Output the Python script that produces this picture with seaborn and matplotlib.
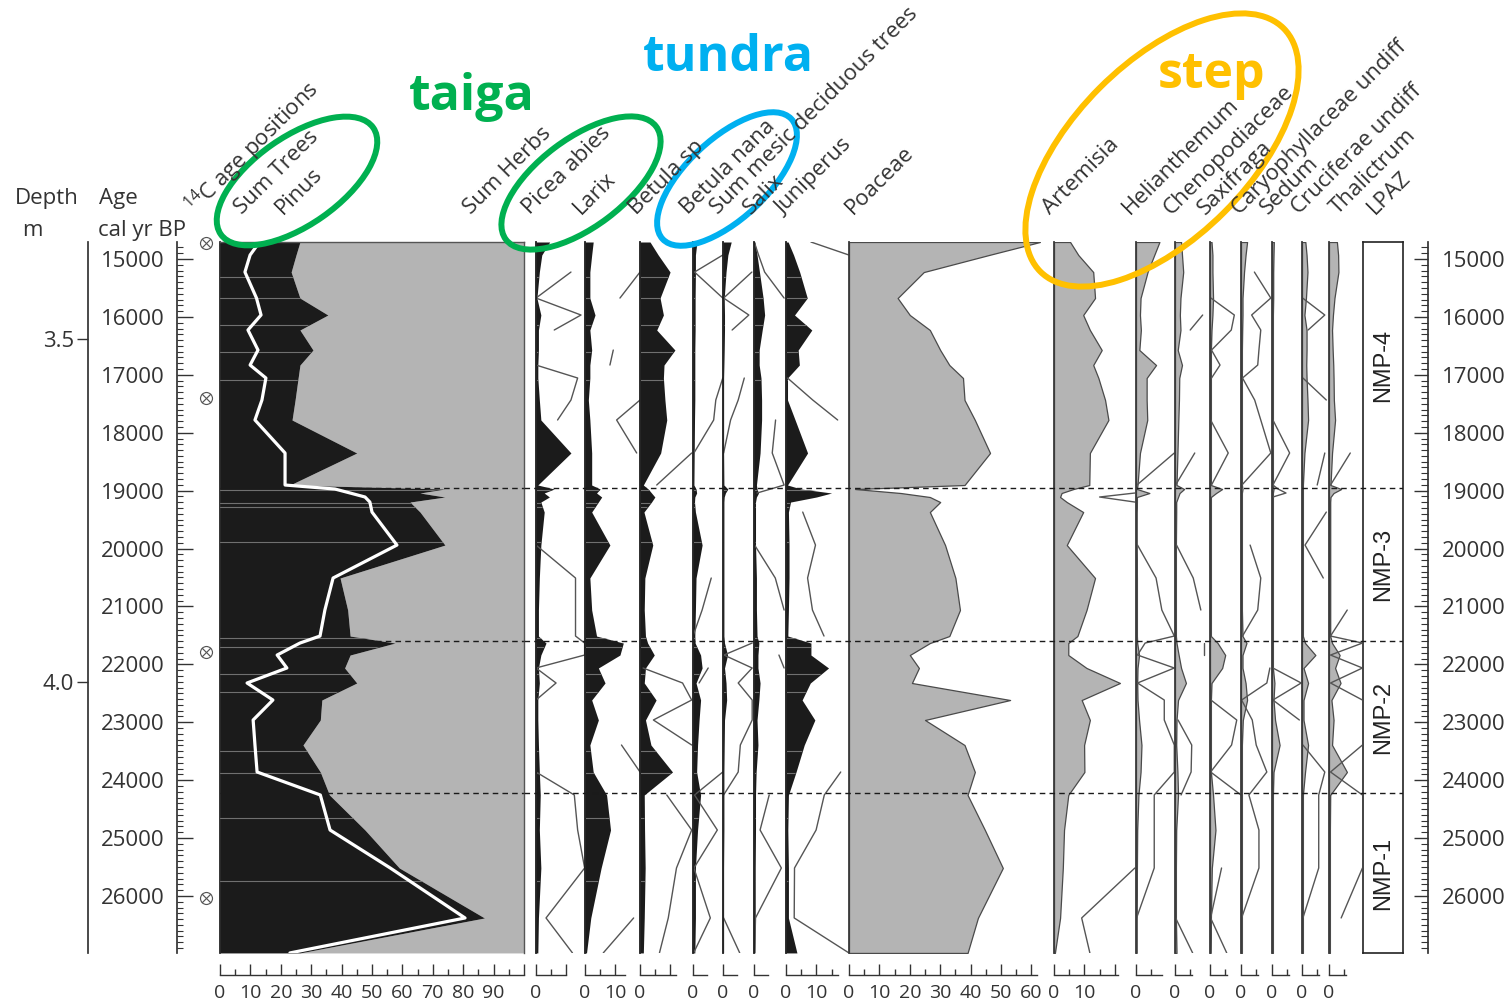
import numpy as np
import pandas as pd
import matplotlib
matplotlib.use("Agg")
import matplotlib.pyplot as plt
import matplotlib.transforms as mtrans
from matplotlib.patches import Ellipse
import seaborn as sns

nan = np.nan

# ---------------- data ----------------
ages = [14706, 14931, 15225, 15674, 15967, 16226, 16572, 16831, 17055, 17435,
        17780, 18350, 18903, 18972, 19041, 19110, 19197, 19370, 19940, 20509,
        21062, 21511, 21632, 21839, 22063, 22322, 22616, 22961, 23393, 23859,
        24256, 24861, 25517, 26380, 26984]

sum_trees = [26.3, 25.0, 23.4, 26.3, 35.5, 26.3, 30.6, 26.3, 25.7, 24.7,
             23.7, 45.0, 23.0, 74.0, 65.8, 74.0, 62.5, 65.8, 74.0, 39.5,
             42.0, 42.8, 57.6, 42.8, 41.0, 45.0, 33.5, 33.0, 27.3, 33.0,
             36.0, 47.7, 59.0, 87.0, 26.3]
pinus = [13.0, 9.9, 8.2, 12.0, 13.5, 9.2, 12.5, 9.9, 15.1, 13.8,
         11.5, 21.4, 21.4, 37.8, 42.8, 47.7, 49.3, 50.0, 58.2, 37.2,
         34.5, 32.9, 26.3, 18.8, 22.0, 8.9, 17.4, 10.9, 11.5, 12.2,
         33.0, 36.2, 56.0, 80.6, 23.0]

picea = [4.5, 1.9, 1.1, 0.3, 1.6, 0.8, 0.8, 0.6, 0.6, 1.1,
         1.6, 11.5, 0.6, 6.0, 2.7, 4.4, 1.6, 2.7, 1.6, 1.1,
         0.8, 0.8, 3.3, 1.6, 0.8, 1.1, 0.6, 0.6, 0.8, 1.1,
         1.4, 1.1, 1.6, 0.8, 0.6]
picea_line = [nan, nan, 11.5, 0.0, 14.8, 6.0, nan, 0.0, 13.7, 11.5,
              7.1, nan, nan, nan, nan, nan, nan, nan, 0.0, 13.0,
              13.0, 13.0, 16.0, 16.0, 0.0, 6.6, 0.0, nan, nan, 0.0,
              12.6, 13.7, 16.0, 3.3, 12.0]
larix = [2.7, 2.2, 1.6, 1.6, 3.3, 1.6, 2.2, 1.6, 1.6, 1.1,
         1.6, 2.2, 2.2, 5.0, 3.8, 5.5, 4.4, 2.2, 8.2, 1.6,
         2.2, 3.8, 12.6, 11.5, 4.4, 6.6, 2.2, 4.4, 1.6, 2.7,
         7.1, 8.4, 5.3, 1.9, 0.5]
larix_line = [nan, nan, 18.1, 11.5, nan, nan, 9.3, 8.2, nan, 18.1,
              10.4, 17.0, nan, nan, nan, nan, nan, nan, nan, nan,
              nan, nan, nan, nan, nan, nan, nan, nan, 12.0, 18.1,
              nan, nan, nan, 16.0, 6.0]
betula_sp = [3.3, 6.0, 9.9, 6.6, 7.7, 5.5, 11.5, 7.9, 7.7, 8.2,
             8.8, 6.8, 1.1, 2.7, 3.8, 4.9, 3.8, 1.3, 4.2, 1.6,
             1.4, 1.8, 2.5, 4.7, 1.8, 1.4, 5.3, 1.8, 3.6, 10.7,
             1.4, 1.5, 1.7, 1.4, 1.1]
betula_sp_line = [nan, nan, nan, nan, nan, nan, nan, nan, nan, nan,
                  nan, 17.0, 5.5, nan, nan, nan, nan, nan, nan, nan,
                  nan, nan, nan, nan, 1.0, 14.0, 17.0, 4.4, 17.0, nan,
                  8.8, 17.0, 12.0, 9.3, 6.4]
betula_nana = [1.3, 0.8, 0.8, 0.7, 0.7, 0.7, 0.6, 0.6, 0.6, 0.6,
               0.5, 0.4, 0.3, 1.0, 1.2, 0.6, 0.5, 0.8, 3.0, 1.0,
               0.8, 0.6, 0.7, 2.5, 3.0, 1.0, 2.5, 2.0, 1.5, 1.2,
               2.5, 1.5, 0.8, 0.8, 0.6]
betula_nana_line = [nan, 9.8, 0.5, 9.8, nan, nan, nan, nan, 9.8, 7.5,
                    6.8, 0.3, nan, nan, nan, nan, nan, nan, nan, 6.0,
                    3.0, 0.0, nan, nan, 5.0, 2.0, nan, nan, nan, 9.8,
                    0.5, 8.0, 0.3, 5.7, 0.2]
sum_mesic = [2.7, 1.6, 1.0, 0.4, 0.5, 0.5, 0.4, 0.3, 0.2, 0.2,
             0.2, 0.2, 0.3, 1.6, 0.8, 0.4, 0.3, 0.3, 0.3, 0.3,
             0.3, 0.3, 0.5, 1.5, 0.5, 1.0, 1.2, 0.5, 0.4, 0.3,
             0.3, 0.3, 0.2, 0.2, 0.2]
sum_mesic_line = [nan, nan, 9.5, 0.2, 8.5, 3.0, nan, nan, 7.0, 5.0,
                  2.5, 0.2, nan, nan, nan, nan, nan, nan, nan, nan,
                  nan, nan, 9.6, 0.3, 9.6, 5.0, 9.6, 9.6, 5.7, 5.0,
                  0.2, nan, nan, 0.2, 5.5]
salix = [0.3, 1.0, 1.8, 3.0, 3.5, 2.7, 1.7, 1.7, 2.3, 2.5,
         2.5, 2.0, 0.8, 1.0, 1.5, 0.8, 0.5, 0.5, 0.5, 0.8,
         0.8, 1.0, 1.6, 1.3, 1.3, 2.0, 1.6, 1.0, 1.3, 0.7,
         0.5, 0.5, 0.4, 0.4, 0.3]
salix_line = [0.1, 1.5, 3.5, 9.9, nan, nan, nan, nan, nan, nan,
              7.1, 6.0, 9.9, 5.5, 1.0, nan, nan, nan, 0.2, 7.0,
              9.9, nan, nan, 8.2, 9.9, nan, nan, nan, nan, nan,
              5.0, 2.0, 9.0, 0.5, 0.2]
juniperus = [0.7, 2.5, 4.5, 7.0, 2.8, 8.5, 4.0, 4.4, 0.5, 0.5,
             3.0, 7.1, 0.5, 5.0, 15.0, 10.0, 1.5, 0.8, 1.0, 1.0,
             0.8, 0.6, 8.2, 8.2, 14.0, 8.0, 5.3, 9.5, 6.0, 3.3,
             0.8, 0.6, 0.8, 0.8, 3.6]
juniperus_line = [8.2, 20.7, nan, nan, nan, nan, nan, nan, 0.5, 8.8,
                  17.0, nan, nan, nan, nan, nan, nan, 5.5, 9.7, 7.1,
                  8.7, 12.5, nan, nan, nan, nan, nan, nan, nan, 18.0,
                  12.6, 9.9, 2.8, 2.7, 20.7]
poaceae = [62.8, 46.0, 24.6, 16.0, 20.0, 26.6, 30.0, 33.0, 37.5, 38.0,
           41.4, 46.4, 38.0, 2.0, 17.0, 26.6, 30.0, 26.6, 31.6, 35.0,
           36.5, 33.0, 26.6, 20.0, 23.0, 20.7, 53.0, 25.0, 38.0, 41.4,
           39.0, 44.7, 50.6, 42.4, 39.0]
artemisia = [5.3, 8.0, 12.9, 13.5, 9.6, 11.8, 15.7, 12.9, 14.6, 16.8,
             17.9, 11.8, 11.6, 6.4, 2.5, 2.0, 4.2, 9.6, 4.2, 13.5,
             10.7, 7.7, 4.7, 4.7, 10.7, 21.7, 9.1, 11.8, 9.9, 10.0,
             4.7, 3.3, 2.9, 2.0, 0.3]
artemisia_line = [nan, nan, nan, nan, nan, nan, nan, nan, nan, nan,
                  nan, nan, nan, nan, 26.6, 15.0, 26.6, nan, nan, nan,
                  nan, nan, nan, nan, nan, nan, nan, nan, nan, nan,
                  nan, nan, 26.6, 9.1, 11.8]
helianthemum = [7.7, 6.0, 3.8, 1.5, 1.3, 1.6, 1.1, 6.6, 3.5, 3.5,
                3.7, 1.3, 0.5, 0.3, 4.4, 0.3, 0.3, 0.2, 0.2, 0.3,
                0.3, 0.3, 0.4, 1.0, 0.5, 0.4, 0.5, 1.0, 1.8, 1.5,
                0.8, 0.4, 0.3, 0.2, 0.2]
helianthemum_line = [nan, nan, nan, nan, nan, nan, nan, nan, nan, nan,
                     nan, 12.6, 0.3, nan, nan, nan, nan, nan, 0.5, 6.6,
                     8.5, 12.6, 3.0, 0.5, 12.6, 0.5, 9.3, 9.3, 12.6, 12.6,
                     6.0, 6.0, 6.0, 0.2, nan]
cheno = [2.0, 2.3, 2.7, 1.8, 1.6, 1.8, 0.9, 2.3, 1.4, 1.3,
         1.1, 0.8, 0.5, 3.0, 1.5, 1.0, 0.4, 0.4, 0.3, 0.3,
         0.3, 0.3, 0.5, 1.2, 2.0, 3.6, 1.0, 0.5, 0.4, 0.8,
         1.0, 0.4, 0.3, 0.3, 0.5]
cheno_line = [nan, nan, nan, nan, 9.1, 5.0, nan, nan, nan, nan,
              nan, 6.5, 0.2, nan, nan, nan, nan, nan, 0.5, 6.0,
              8.5, nan, 9.6, 9.6, nan, nan, nan, 1.0, 5.5, 5.3,
              2.0, nan, nan, 0.2, 5.8]
saxifraga = [0.5, 0.8, 0.8, 1.0, 0.8, 0.5, 0.3, 0.3, 0.3, 0.3,
             0.3, 0.3, 0.3, 4.0, 2.0, 0.3, 0.3, 0.3, 0.3, 0.3,
             0.3, 0.3, 2.5, 5.0, 4.0, 0.5, 0.3, 0.3, 0.3, 0.3,
             1.0, 1.8, 0.6, 0.3, 0.2]
saxifraga_line = [nan, nan, nan, 0.3, 8.0, 7.0, 0.5, 3.3, 0.5, nan,
                  0.2, 6.0, 0.5, nan, nan, nan, nan, nan, nan, nan,
                  nan, nan, nan, nan, nan, nan, 0.3, 8.8, 7.1, 0.2,
                  10.2, nan, 3.8, 0.2, 5.5]
caryo = [2.0, 1.5, 1.0, 0.5, 0.5, 0.4, 0.3, 0.3, 0.3, 0.3,
         0.3, 0.3, 0.3, 0.5, 0.3, 0.3, 0.3, 0.3, 0.3, 0.3,
         0.3, 0.5, 1.8, 0.5, 0.5, 1.5, 2.0, 0.6, 0.3, 0.3,
         0.3, 0.3, 0.3, 0.3, 0.3]
caryo_line = [nan, nan, 4.4, 9.8, 3.5, 6.5, 5.9, 5.5, 0.5, 4.5,
              6.5, 9.8, 0.3, nan, nan, nan, 6.0, nan, 3.0, 6.5,
              5.5, 0.5, nan, nan, 9.5, 8.5, 0.2, 3.7, 5.0, 8.5,
              2.6, 5.9, 5.9, 0.2, 0.2]
sedum = [0.6, 0.5, 0.4, 0.4, 0.3, 0.3, 0.3, 0.3, 0.3, 0.3,
         0.3, 0.3, 0.3, 0.5, 0.3, 0.3, 0.3, 0.3, 0.3, 0.3,
         0.3, 0.3, 0.3, 0.3, 0.3, 0.8, 0.5, 1.0, 2.5, 0.5,
         0.3, 0.3, 0.3, 0.3, 0.3]
sedum_line = [nan, nan, nan, nan, nan, nan, nan, nan, nan, nan,
              0.3, 5.8, 0.3, 2.0, 4.6, 0.3, nan, nan, nan, nan,
              nan, nan, nan, nan, 0.3, 9.6, 0.3, 9.0, nan, nan,
              nan, nan, nan, nan, nan]
cruciferae = [1.1, 1.5, 1.8, 1.3, 0.8, 1.5, 1.5, 1.4, 1.5, 1.8,
              2.0, 0.8, 0.3, 0.3, 0.3, 0.3, 0.3, 0.3, 0.3, 0.3,
              0.3, 0.3, 1.0, 4.4, 0.5, 2.0, 0.5, 0.5, 2.0, 1.0,
              0.3, 0.3, 0.3, 0.3, 0.3]
cruciferae_line = [nan, nan, nan, 0.2, 7.5, 2.0, nan, nan, 0.3, 8.0,
                   nan, 7.5, 5.0, nan, nan, nan, nan, 8.0, 1.0, 7.0,
                   nan, nan, nan, nan, nan, nan, nan, nan, 0.3, 7.5,
                   5.5, 5.5, 5.5, 0.3, nan]
thalictrum = [2.6, 3.0, 3.1, 1.8, 1.3, 1.0, 1.2, 1.4, 1.5, 1.6,
              2.0, 1.0, 0.5, 4.0, 1.5, 0.5, 0.4, 0.4, 0.4, 0.4,
              0.4, 0.4, 1.0, 3.5, 2.0, 3.8, 0.8, 1.5, 1.0, 5.9,
              0.4, 0.3, 0.3, 0.3, 0.3]
thalictrum_line = [nan, nan, nan, nan, nan, 8.0, nan, nan, nan, nan,
                   nan, 7.0, 0.5, nan, nan, nan, nan, 11.0, nan, nan,
                   6.0, 0.5, 11.0, 0.5, 11.0, 0.5, 11.0, nan, 11.0, 0.5,
                   11.0, nan, 11.0, 4.0, nan]

level_ages = [15311, 15674, 16140, 16606, 17090, 18990, 19214, 19283, 19887,
              21545, 21701, 22167, 22478, 23497, 23877, 24654, 25742]
c14_ages = [14724, 17400, 21787, 26036]
zone_names = ["NMP-4", "NMP-3", "NMP-2", "NMP-1"]
zone_bounds = [18955, 21597, 24222]
age_ticks = [15000, 16000, 17000, 18000, 19000, 20000, 21000, 22000, 23000, 24000, 25000, 26000]
depth_ticks = [3.5, 4.0]
depth_labels = ["3.5", "4.0"]

header_labels = [r"$^{14}$C age positions", "Sum Trees", "Pinus", "Sum Herbs",
                 "Picea abies", "Larix", "Betula sp", "Betula nana",
                 "Sum mesic deciduous trees", "Salix", "Juniperus", "Poaceae",
                 "Artemisia", "Helianthemum", "Chenopodiaceae", "Saxifraga",
                 "Caryophyllaceae undiff", "Sedum", "Cruciferae undiff",
                 "Thalictrum", "LPAZ"]
header_x = [195, 242, 283, 471, 530, 581, 636, 688, 718, 751, 783, 853,
            1050, 1130, 1171, 1205, 1239, 1268, 1299, 1338, 1375]

# ---------------- style / layout ----------------
sns.set_theme(style="white")
plt.rcParams['font.family'] = ['Open Sans', 'DejaVu Sans']
plt.rcParams['mathtext.default'] = 'regular'

W, H, DPI = 1509, 1006, 100
TOP, BOT = 242, 953
AGE_TOP, AGE_BOT = 14706, 26985
DEPTH_TOP, DEPTH_BOT = 3.3586, 4.395
PXP = 3.04          # pixels per percent
TXT = '#333333'
BLACK = '#1b1b1b'
GREY = '#b4b4b4'
LINEC = '#555555'

fig = plt.figure(figsize=(W / DPI, H / DPI), dpi=DPI)
fig.patch.set_facecolor('white')


def rect(x0, x1, y0=TOP, y1=BOT):
    return [x0 / W, 1 - y1 / H, (x1 - x0) / W, (y1 - y0) / H]


def base_axes(x0, x1):
    ax = fig.add_axes(rect(x0, x1))
    ax.set_facecolor('none')
    for s in ax.spines.values():
        s.set_visible(False)
    ax.grid(False)
    ax.set_yticks([])
    ax.set_xticks([])
    return ax


def draw_line(ax, vals, color=LINEC, lw=1.0, z=4):
    v = np.asarray(vals, dtype=float)
    a = np.asarray(ages, dtype=float)
    idx = np.where(~np.isnan(v))[0]
    if len(idx) == 0:
        return
    runs = np.split(idx, np.where(np.diff(idx) != 1)[0] + 1)
    for r in runs:
        if len(r) < 2:
            continue
        sns.lineplot(x=v[r], y=a[r], orient='y', sort=False, estimator=None,
                     color=color, lw=lw, ax=ax, zorder=z)


def level_lines(ax, coll):
    path = coll.get_paths()[0]
    for la in level_ages:
        ln = ax.axhline(la, color='#707070', lw=0.8, zorder=3)
        ln.set_clip_path(path, ax.transData)


def bottom_scale(ax, amax, labs):
    sp = ax.spines['bottom']
    sp.set_visible(True)
    sp.set_position(('outward', 16))
    sp.set_bounds(0, amax)
    sp.set_color(TXT)
    sp.set_linewidth(1)
    majors = list(range(0, int(amax) + 1, 10))
    minors = list(range(5, int(amax) + 1, 10))
    ax.set_xticks(majors)
    ax.set_xticklabels([str(m) if m in labs else '' for m in majors])
    ax.set_xticks(minors, minor=True)
    ax.tick_params(axis='x', which='major', direction='in', length=8, width=1,
                   color=TXT, labelsize=14, labelcolor=TXT, pad=6, bottom=True)
    ax.tick_params(axis='x', which='minor', direction='in', length=4, width=1,
                   color=TXT, bottom=True)


# ---- Panel 1 : Sum Trees (black) / Sum Herbs (grey) / Pinus (white) ----
ax1 = base_axes(220, 524)
ax1.fill_betweenx(ages, sum_trees, 100, color=GREY, lw=0, zorder=1)
for b in zone_bounds:
    ax1.axhline(b, color='k', lw=1, ls=(0, (4, 3)), zorder=1.5)
blk = ax1.fill_betweenx(ages, 0, sum_trees, color=BLACK, lw=0, zorder=2)
level_lines(ax1, blk)
df_p = pd.DataFrame({'age': ages, 'pinus': pinus})
sns.lineplot(data=df_p, x='pinus', y='age', orient='y', sort=False, estimator=None,
             color='white', lw=2.3, ax=ax1, zorder=4)
for s in ['top', 'right']:
    ax1.spines[s].set_visible(True)
    ax1.spines[s].set_color('#555555')
    ax1.spines[s].set_linewidth(1)
ax1.spines['left'].set_visible(True)
ax1.spines['left'].set_color(BLACK)
bottom_scale(ax1, 100, [0, 10, 20, 30, 40, 50, 60, 70, 80, 90])
ax1.set_xlim(0, 100)
ax1.set_ylim(AGE_BOT, AGE_TOP)
ax1.set_xlabel('')
ax1.set_ylabel('')

# ---- the other taxa ----
panels = [
    (picea, picea_line, 'black', 536, 585, 10, [0]),
    (larix, larix_line, 'black', 585, 640, 13, [0, 10]),
    (betula_sp, betula_sp_line, 'black', 640, 693, 12, [0]),
    (betula_nana, betula_nana_line, 'black', 693, 723, 4.5, [0]),
    (sum_mesic, sum_mesic_line, 'black', 723, 754, 4.5, [0]),
    (salix, salix_line, 'black', 754, 786, 4.5, [0]),
    (juniperus, juniperus_line, 'black', 786, 849, 17, [0, 10]),
    (poaceae, None, 'grey', 849, 1054, 62, [0, 10, 20, 30, 40, 50, 60]),
    (artemisia, artemisia_line, 'grey', 1054, 1136, 21, [0, 10]),
    (helianthemum, helianthemum_line, 'grey', 1136, 1175, 8.5, [0]),
    (cheno, cheno_line, 'grey', 1175, 1210, 5.5, [0]),
    (saxifraga, saxifraga_line, 'grey', 1210, 1241, 5.5, [0]),
    (caryo, caryo_line, 'grey', 1241, 1272, 5.5, [0]),
    (sedum, sedum_line, 'grey', 1272, 1302, 5.5, [0]),
    (cruciferae, cruciferae_line, 'grey', 1302, 1329, 5.5, [0]),
    (thalictrum, thalictrum_line, 'grey', 1329, 1362, 5.5, [0]),
]

for vals, line, style, x0, x1, amax, labs in panels:
    ax = base_axes(x0, x1)
    xmax = (x1 - x0) / PXP
    if style == 'black':
        coll = ax.fill_betweenx(ages, 0, vals, color=BLACK, lw=0, zorder=2)
        level_lines(ax, coll)
    else:
        ax.fill_betweenx(ages, 0, vals, facecolor=GREY, edgecolor='#4a4a4a',
                         lw=0.9, zorder=2)
    if line is not None:
        draw_line(ax, line)
    ax.spines['left'].set_visible(True)
    ax.spines['left'].set_color(BLACK if style == 'black' else '#3a3a3a')
    ax.spines['left'].set_linewidth(1.3)
    ax.spines['left'].set_zorder(5)
    bottom_scale(ax, amax, labs)
    ax.set_xlim(0, xmax)
    ax.set_ylim(AGE_BOT, AGE_TOP)
    ax.set_xlabel('')
    ax.set_ylabel('')

# ---- zone boundaries across the taxa (on top) ----
axzl = base_axes(524, 1403)
axzl.set_zorder(10)
for b in zone_bounds:
    axzl.axhline(b, color='k', lw=1, ls=(0, (4, 3)))
axzl.set_ylim(AGE_BOT, AGE_TOP)
axzl.set_xlim(0, 1)

# ---- LPAZ box ----
axz = base_axes(1363, 1403)
for s in axz.spines.values():
    s.set_visible(True)
    s.set_color('#222222')
    s.set_linewidth(1.2)
axz.set_ylim(AGE_BOT, AGE_TOP)
edges = [AGE_TOP] + zone_bounds + [AGE_BOT]
trans = mtrans.blended_transform_factory(axz.transAxes, axz.transData)
for name, a0, a1 in zip(zone_names, edges[:-1], edges[1:]):
    axz.text(0.5, (a0 + a1) / 2, name, rotation=90, ha='center', va='center',
             transform=trans, fontsize=17, color='#222222',
             family=['Liberation Sans', 'DejaVu Sans'])

# ---- depth axis ----
axd = base_axes(88, 120)
axd.spines['left'].set_visible(True)
axd.spines['left'].set_color(TXT)
axd.set_ylim(DEPTH_BOT, DEPTH_TOP)
axd.set_yticks(depth_ticks)
axd.set_yticklabels(depth_labels)
axd.tick_params(axis='y', direction='out', length=8, width=1, color=TXT,
                labelsize=16, labelcolor=TXT, pad=2, left=True)

# ---- left age axis with 14C markers ----
axa = base_axes(177, 219)
axa.spines['left'].set_visible(True)
axa.spines['left'].set_color(TXT)
axa.set_xlim(0, 1)
sns.scatterplot(x=[0.69] * len(c14_ages), y=c14_ages, marker=r'$\otimes$', s=90,
                color='#555555', linewidth=0, ax=axa, zorder=5, clip_on=False)
axa.set_ylim(AGE_BOT, AGE_TOP)
axa.set_yticks(age_ticks)
axa.set_yticklabels([str(t) for t in age_ticks])
axa.set_yticks(np.arange(14800, 27000, 100), minor=True)
axa.tick_params(axis='y', which='major', direction='in', length=11.5, width=1,
                color=TXT, labelsize=16, labelcolor=TXT, pad=9, left=True)
axa.tick_params(axis='y', which='minor', direction='in', length=4.5, width=0.8,
                color=TXT, left=True)
axa.set_xlabel('')
axa.set_ylabel('')

# ---- right age axis ----
axr = base_axes(1400, 1428)
axr.spines['right'].set_visible(True)
axr.spines['right'].set_color(TXT)
axr.set_ylim(AGE_BOT, AGE_TOP)
axr.yaxis.tick_right()
axr.set_yticks(age_ticks)
axr.set_yticklabels([str(t) for t in age_ticks])
axr.set_yticks(np.arange(14800, 27000, 100), minor=True)
axr.tick_params(axis='y', which='major', direction='in', length=10, width=1,
                color=TXT, labelsize=16, labelcolor=TXT, pad=10,
                right=True, left=False, labelright=True, labelleft=False)
axr.tick_params(axis='y', which='minor', direction='in', length=5, width=0.8,
                color=TXT, right=True, left=False)

# ---- overlay: headers, group labels and ellipses (pixel space) ----
ov = fig.add_axes([0, 0, 1, 1])
ov.set_xlim(0, W)
ov.set_ylim(H, 0)
ov.axis('off')
ov.set_zorder(30)

ov.text(15, 204, "Depth", fontsize=16, color=TXT, va='baseline', ha='left')
ov.text(22, 236, "m", fontsize=16, color=TXT, va='baseline', ha='left')
ov.text(99, 204, "Age", fontsize=16, color=TXT, va='baseline', ha='left')
ov.text(98, 236, "cal yr BP", fontsize=16, color=TXT, va='baseline', ha='left')

for lab, x in zip(header_labels, header_x):
    ov.text(x, 215, lab, rotation=45, rotation_mode='anchor', ha='left',
            va='baseline', fontsize=16, color=TXT)

ov.text(409, 110, "taiga", fontsize=36, fontweight='bold', color='#00B050',
        va='baseline', ha='left')
ov.text(643, 71, "tundra", fontsize=36, fontweight='bold', color='#00B0F0',
        va='baseline', ha='left')
ov.text(1158, 88, "step", fontsize=36, fontweight='bold', color='#FFC000',
        va='baseline', ha='left')

for (cx, cy, a, b, ang, col) in [(297, 181, 93, 44, -35, '#00B050'),
                                 (581, 183, 94, 44, -37, '#00B050'),
                                 (727, 179, 88, 40, -43, '#00B0F0'),
                                 (1162, 150, 172, 88, -45, '#FFC000')]:
    ov.add_patch(Ellipse((cx, cy), 2 * a, 2 * b, angle=ang, fill=False,
                         edgecolor=col, lw=4.3))

fig.savefig("out.png", dpi=DPI)
